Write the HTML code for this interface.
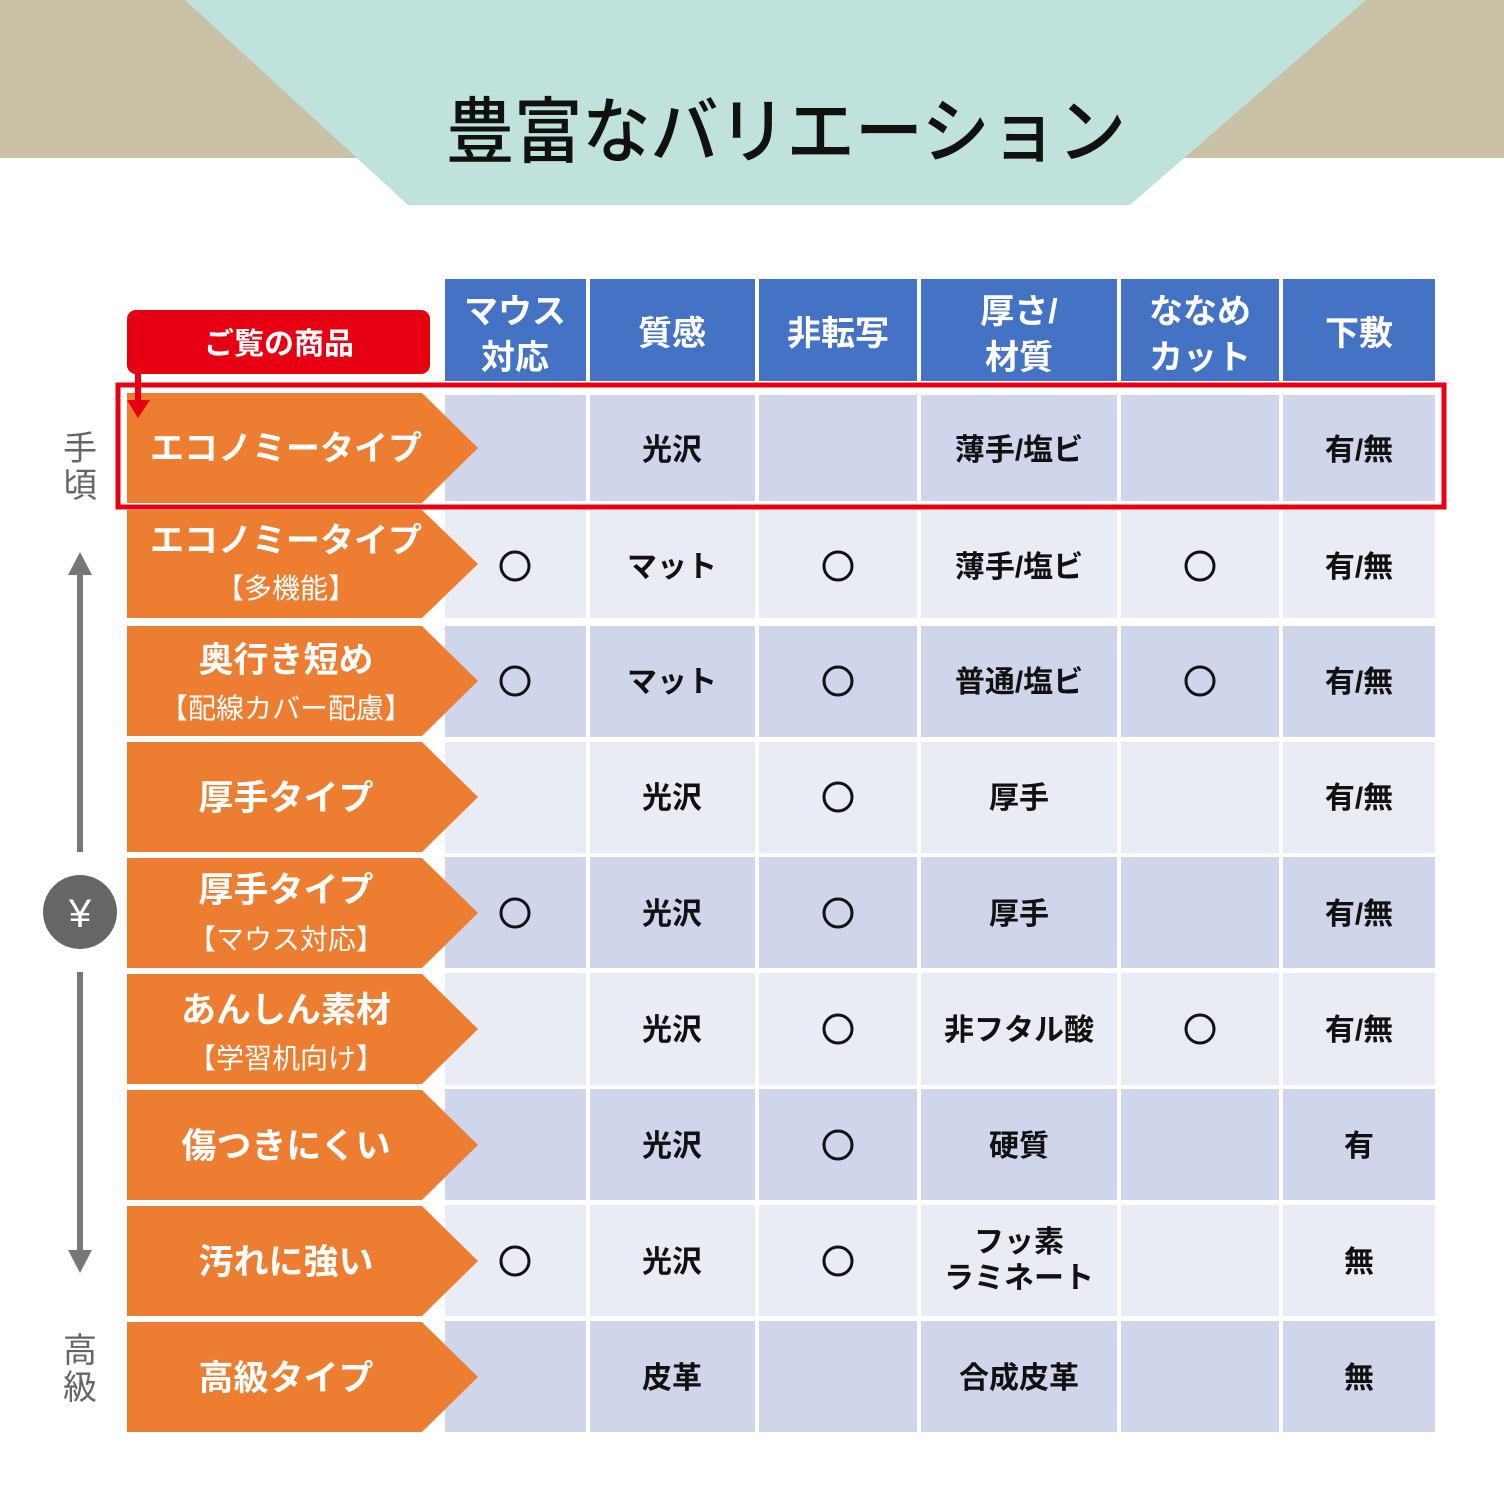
<!DOCTYPE html>
<html><head><meta charset="utf-8"><style>
body{margin:0;background:#fff}
svg{display:block}
text{font-family:"Liberation Sans","Noto Sans CJK JP",sans-serif}
</style></head><body>
<svg width="1504" height="1504" viewBox="0 0 1504 1504" xmlns="http://www.w3.org/2000/svg">
<rect x="0" y="0" width="1504" height="158" fill="#c9c1a5"/>
<polygon points="185,0 1366,0 1130,205 408,205" fill="#bfe3dc"/>
<text x="786" y="157" font-size="72" text-anchor="middle" fill="#111" font-weight="500" textLength="680" lengthAdjust="spacingAndGlyphs">豊富なバリエーション</text>

<!-- header -->
<g fill="#4472c4">
<rect x="445" y="279" width="141" height="102"/>
<rect x="590" y="279" width="165" height="102"/>
<rect x="759" y="279" width="158" height="102"/>
<rect x="921" y="279" width="196" height="102"/>
<rect x="1121" y="279" width="158" height="102"/>
<rect x="1283" y="279" width="152" height="102"/>
</g>
<g fill="#fff" font-size="34" font-weight="bold" text-anchor="middle">
<text x="515" y="323">マウス</text><text x="515" y="369">対応</text>
<text x="672" y="345">質感</text>
<text x="838" y="345">非転写</text>
<text x="1019" y="323">厚さ/</text><text x="1019" y="369">材質</text>
<text x="1200" y="323">ななめ</text><text x="1200" y="369">カット</text>
<text x="1359" y="345">下敷</text>
</g>

<!-- rows -->
<g id="rows">
<g fill="#cfd5ea">
<rect x="445" y="395" width="141" height="106"/><rect x="590" y="395" width="165" height="106"/><rect x="759" y="395" width="158" height="106"/><rect x="921" y="395" width="196" height="106"/><rect x="1121" y="395" width="158" height="106"/><rect x="1283" y="395" width="152" height="106"/>
</g>
<g fill="#e9ebf5">
<rect x="445" y="510" width="141" height="108"/><rect x="590" y="510" width="165" height="108"/><rect x="759" y="510" width="158" height="108"/><rect x="921" y="510" width="196" height="108"/><rect x="1121" y="510" width="158" height="108"/><rect x="1283" y="510" width="152" height="108"/>
</g>
<g fill="#cfd5ea">
<rect x="445" y="626" width="141" height="111"/><rect x="590" y="626" width="165" height="111"/><rect x="759" y="626" width="158" height="111"/><rect x="921" y="626" width="196" height="111"/><rect x="1121" y="626" width="158" height="111"/><rect x="1283" y="626" width="152" height="111"/>
</g>
<g fill="#e9ebf5">
<rect x="445" y="742" width="141" height="111"/><rect x="590" y="742" width="165" height="111"/><rect x="759" y="742" width="158" height="111"/><rect x="921" y="742" width="196" height="111"/><rect x="1121" y="742" width="158" height="111"/><rect x="1283" y="742" width="152" height="111"/>
</g>
<g fill="#cfd5ea">
<rect x="445" y="857" width="141" height="111"/><rect x="590" y="857" width="165" height="111"/><rect x="759" y="857" width="158" height="111"/><rect x="921" y="857" width="196" height="111"/><rect x="1121" y="857" width="158" height="111"/><rect x="1283" y="857" width="152" height="111"/>
</g>
<g fill="#e9ebf5">
<rect x="445" y="973" width="141" height="112"/><rect x="590" y="973" width="165" height="112"/><rect x="759" y="973" width="158" height="112"/><rect x="921" y="973" width="196" height="112"/><rect x="1121" y="973" width="158" height="112"/><rect x="1283" y="973" width="152" height="112"/>
</g>
<g fill="#cfd5ea">
<rect x="445" y="1089" width="141" height="111"/><rect x="590" y="1089" width="165" height="111"/><rect x="759" y="1089" width="158" height="111"/><rect x="921" y="1089" width="196" height="111"/><rect x="1121" y="1089" width="158" height="111"/><rect x="1283" y="1089" width="152" height="111"/>
</g>
<g fill="#e9ebf5">
<rect x="445" y="1205" width="141" height="111"/><rect x="590" y="1205" width="165" height="111"/><rect x="759" y="1205" width="158" height="111"/><rect x="921" y="1205" width="196" height="111"/><rect x="1121" y="1205" width="158" height="111"/><rect x="1283" y="1205" width="152" height="111"/>
</g>
<g fill="#cfd5ea">
<rect x="445" y="1321" width="141" height="111"/><rect x="590" y="1321" width="165" height="111"/><rect x="759" y="1321" width="158" height="111"/><rect x="921" y="1321" width="196" height="111"/><rect x="1121" y="1321" width="158" height="111"/><rect x="1283" y="1321" width="152" height="111"/>
</g>
</g>

<!-- orange arrows -->
<g fill="#ed7d31">
<polygon points="127,393 422,393 478,448 422,503 127,503"/>
<polygon points="127,510 422,510 478,564 422,618 127,618"/>
<polygon points="127,626 422,626 478,681 422,736 127,736"/>
<polygon points="127,742 422,742 478,797 422,852 127,852"/>
<polygon points="127,858 422,858 478,913 422,968 127,968"/>
<polygon points="127,974 422,974 478,1029 422,1084 127,1084"/>
<polygon points="127,1090 422,1090 478,1145 422,1200 127,1200"/>
<polygon points="127,1206 422,1206 478,1261 422,1316 127,1316"/>
<polygon points="127,1322 422,1322 478,1377 422,1432 127,1432"/>
</g>
<g fill="#fff" font-weight="bold" text-anchor="middle">
<text x="286" y="460" font-size="34">エコノミータイプ</text>
<text x="286" y="552" font-size="34">エコノミータイプ</text><text x="286" y="598" font-size="28" font-weight="normal">【多機能】</text>
<text x="286" y="672" font-size="35">奥行き短め</text><text x="286" y="718" font-size="28" font-weight="normal">【配線カバー配慮】</text>
<text x="286" y="810" font-size="35">厚手タイプ</text>
<text x="286" y="902" font-size="35">厚手タイプ</text><text x="286" y="949" font-size="28" font-weight="normal">【マウス対応】</text>
<text x="286" y="1022" font-size="35">あんしん素材</text><text x="286" y="1068" font-size="28" font-weight="normal">【学習机向け】</text>
<text x="286" y="1158" font-size="35">傷つきにくい</text>
<text x="286" y="1274" font-size="35">汚れに強い</text>
<text x="286" y="1390" font-size="35">高級タイプ</text>
</g>

<!-- cell text -->
<g fill="#111" font-size="30" font-weight="bold" text-anchor="middle">
<text x="672" y="460">光沢</text><text x="1019" y="460">薄手/塩ビ</text><text x="1359" y="460">有/無</text>
<text x="672" y="577">マット</text><text x="1019" y="577">薄手/塩ビ</text><text x="1359" y="577">有/無</text>
<text x="672" y="692">マット</text><text x="1019" y="692">普通/塩ビ</text><text x="1359" y="692">有/無</text>
<text x="672" y="808">光沢</text><text x="1019" y="808">厚手</text><text x="1359" y="808">有/無</text>
<text x="672" y="924">光沢</text><text x="1019" y="924">厚手</text><text x="1359" y="924">有/無</text>
<text x="672" y="1040">光沢</text><text x="1019" y="1040">非フタル酸</text><text x="1359" y="1040">有/無</text>
<text x="672" y="1156">光沢</text><text x="1019" y="1156">硬質</text><text x="1359" y="1156">有</text>
<text x="672" y="1272">光沢</text><text x="1019" y="1252">フッ素</text><text x="1019" y="1288">ラミネート</text><text x="1359" y="1272">無</text>
<text x="672" y="1388">皮革</text><text x="1019" y="1388">合成皮革</text><text x="1359" y="1388">無</text>
</g>
<g fill="none" stroke="#111" stroke-width="3">
<circle cx="515" cy="566" r="14"/><circle cx="838" cy="566" r="14"/><circle cx="1200" cy="566" r="14"/>
<circle cx="515" cy="681" r="14"/><circle cx="838" cy="681" r="14"/><circle cx="1200" cy="681" r="14"/>
<circle cx="838" cy="797" r="14"/>
<circle cx="515" cy="913" r="14"/><circle cx="838" cy="913" r="14"/>
<circle cx="838" cy="1029" r="14"/><circle cx="1200" cy="1029" r="14"/>
<circle cx="838" cy="1145" r="14"/>
<circle cx="515" cy="1261" r="14"/><circle cx="838" cy="1261" r="14"/>
</g>

<!-- red highlight -->
<rect x="118" y="385" width="1326" height="122" fill="none" stroke="#e60012" stroke-width="5"/>
<rect x="127" y="310" width="303" height="64" rx="9" fill="#e60012"/>
<text x="279" y="354" fill="#fff" font-size="30" font-weight="bold" text-anchor="middle">ご覧の商品</text>
<rect x="135" y="372" width="6" height="30" fill="#e60012"/>
<polygon points="127,400 150,400 138,418" fill="#e60012"/>

<!-- left scale -->
<g fill="#666" font-size="34" text-anchor="middle">
<text x="80" y="460">手</text><text x="80" y="497">頃</text>
<text x="80" y="1362">高</text><text x="80" y="1399">級</text>
</g>
<rect x="77" y="570" width="6" height="282" fill="#777"/>
<polygon points="68,575 92,575 80,552" fill="#777"/>
<rect x="77" y="972" width="6" height="282" fill="#777"/>
<polygon points="68,1250 92,1250 80,1273" fill="#777"/>
<circle cx="80" cy="912" r="37" fill="#666"/>
<text x="80" y="927" fill="#fff" font-size="40" text-anchor="middle">¥</text>
</svg>
</body></html>
